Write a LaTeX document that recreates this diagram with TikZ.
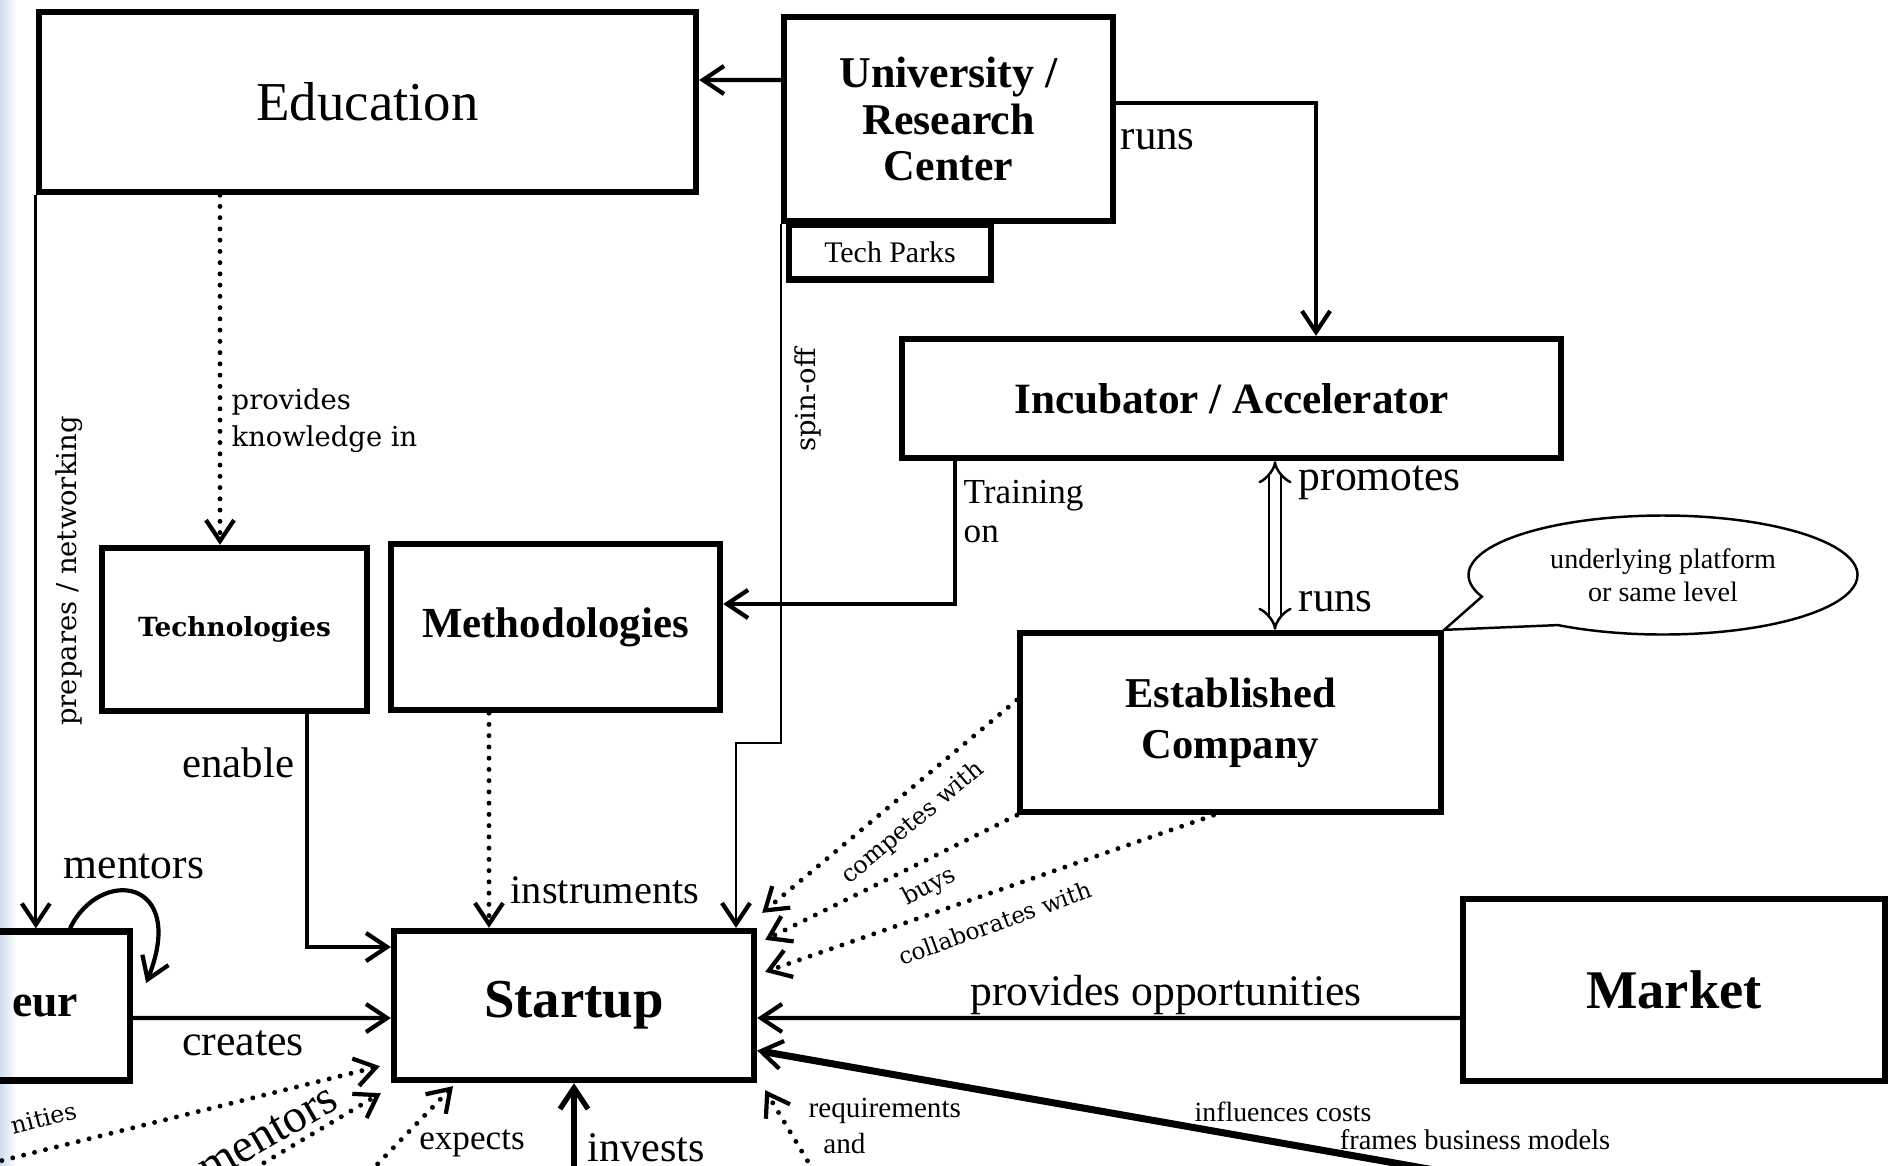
\documentclass[tikz,border=0pt]{standalone}
\usepackage{fontspec}
\setmainfont{Liberation Serif}
\newfontfamily\widefont{DejaVu Serif}
\usetikzlibrary{arrows.meta,shapes,calc,positioning}
\definecolor{stripblue}{RGB}{208,220,238}
\tikzset{box/.style={
            draw,
            fill=white,
            line width=1.8pt,
            inner sep=0pt,
            align=center
        },
        bubble/.style={
            ellipse callout,
            draw,
            fill=white,
            line width=0.7pt,
            inner sep=0pt,
            align=center,
            callout pointer arc=36,
            font=\fontsize{8}{9.5}\selectfont
        },
        lbl/.style={
            inner sep=0pt,
            font=\fontsize{12.2}{14}\selectfont
        },
        smalllbl/.style={
            inner sep=0pt,
            font=\fontsize{8.1}{10.3}\selectfont
        },
        widelbl/.style={
            inner sep=0pt,
            font=\widefont\fontsize{7.8}{10.4}\selectfont
        },
        link/.style={
            line width=1.2pt,
            >={Straight Barb[length=6pt,width=8pt]}
        },
        thinlink/.style={
            line width=0.6pt,
            >={Straight Barb[length=6pt,width=8pt,line width=1.2pt]}
        },
        heavy/.style={
            line width=2pt,
            >={Straight Barb[length=6pt,width=8pt,line width=1.2pt]}
        },
        dots/.style={
            line width=1.4pt,
            line cap=round,
            dash pattern=on 0pt off 3.2pt,
            >={Straight Barb[length=6pt,width=8pt,line width=1.2pt]}
        },
        dbl/.style={
            double,
            double distance=2.6pt,
            line width=0.7pt,
            {Implies}-{Implies}
        }
    }

\begin{document}
\begin{tikzpicture}[x=0.1mm,y=0.1mm]
        \useasboundingbox (0,0) rectangle (1896,-1165);
        \clip (0,0) rectangle (1896,-1165);
        \fill[left color=stripblue, right color=white] (0,0) rectangle (16,-1165);

        \node[box, minimum width=6.57cm, minimum height=1.8cm, font=\fontsize{15.6}{18}\selectfont] (edu) at (367.5,-102) {Education};
        \node[box, minimum width=3.29cm, minimum height=2.04cm, font=\bfseries\fontsize{12.5}{13.1}\selectfont] (uni) at (948.5,-119) {University /\\Research\\Center};
        \node[box, minimum width=2.02cm, minimum height=0.55cm, font=\fontsize{8.5}{10}\selectfont] (tp) at (890,-252) {Tech Parks};
        \node[box, minimum width=6.59cm, minimum height=1.19cm, font=\bfseries\fontsize{12.3}{14}\selectfont] (inc) at (1231.5,-398.5) {Incubator / Accelerator};
        \node[box, minimum width=2.65cm, minimum height=1.63cm, font=\widefont\bfseries\fontsize{7.5}{9}\selectfont] (tec) at (234.5,-629.5) {Technologies};
        \node[box, minimum width=3.29cm, minimum height=1.66cm, font=\bfseries\fontsize{12.2}{14}\selectfont] (met) at (555.5,-627) {Methodologies};
        \node[box, minimum width=4.21cm, minimum height=1.79cm, font=\bfseries\fontsize{12.1}{14.5}\selectfont] (est) at (1230.5,-722.5) {Established\\Company};
        \node[box, minimum width=4.22cm, minimum height=1.82cm, font=\bfseries\fontsize{15.5}{18}\selectfont] (mkt) at (1674,-990) {Market};
        \node[box, minimum width=3.6cm, minimum height=1.49cm, font=\bfseries\fontsize{15.6}{18}\selectfont] (st) at (574,-1005.5) {Startup};
        \node[box, fill=none, minimum width=1.7cm, minimum height=1.49cm, font=\bfseries\fontsize{13}{15}\selectfont] (ent) at (45,-1006) {eur};
        \node[bubble, minimum width=3.89cm, minimum height=1.19cm, callout absolute pointer={(est.north east)}] (plat) at (1663,-575) {underlying platform\\or same level};

        \draw[link,->] ([yshift=0.39cm]uni.west) -- ([yshift=0.22cm]edu.east);
        \draw[link,->] ([yshift=0.16cm]uni.east) -| ([xshift=0.845cm]inc.north);
        \node[lbl, anchor=west] (lruns) at (1120,-140) {runs};

        \draw[thinlink,->,line width=0.9pt] (edu.south west) -- (edu.south west |- ent.north);
        \node[widelbl, rotate=90] (lprep) at (69,-571) {prepares / networking};

        \draw[dots,->] ($(tec.north |- edu.south)+(-14.5,0)$) -- ($(tec.north)+(-14.5,0)$);
        \node[widelbl, anchor=north west, align=left] (lprov) at (231,-388) {provides\\knowledge in};

        \draw[thinlink,->] (uni.south west) -- ++(0,-519) -| ($(st.north)+(162,0)$);
        \node[widelbl, rotate=90] (lspin) at (808,-400) {spin-off};

        \draw[link,->] ($(inc.south west)+(56,0)$) |- ($(met.east)+(0,23)$);
        \node[lbl, anchor=north west, align=left, font=\fontsize{10}{11}\selectfont] (ltrain) at (963,-480) {Training\\on};

        \draw[dbl] ($(inc.south)+(43.5,0)$) -- ($(est.north)+(44.5,0)$);
        \node[lbl, anchor=west, font=\fontsize{12.4}{14}\selectfont] (lprom) at (1298,-483) {promotes};
        \node[lbl, anchor=west] (lruns2) at (1298,-602) {runs};

        \draw[link,->] ($(tec.south)+(72.5,0)$) |- ($(st.west)+(0,58.5)$);
        \node[lbl, anchor=east] (lenab) at (295,-763) {enable};

        \draw[dots,->] ($(met.south)+(-66.5,0)$) -- ($(st.north)+(-85,0)$);
        \node[lbl, anchor=west, font=\fontsize{11.5}{13}\selectfont] (linst) at (510,-890) {instruments};

        \draw[link,->] ($(ent.north)+(25,0)$) .. controls +(30,62) and +(42,105) .. ($(ent.east)+(13,23)$);
        \node[lbl, font=\fontsize{12.4}{14}\selectfont] (lment) at (134,-866) {mentors};

        \draw[link,->] ($(ent.east)+(0,-12)$) -- ($(st.west)+(0,-12.5)$);
        \node[lbl, font=\fontsize{12.5}{14}\selectfont] (lcrea) at (243,-1043) {creates};

        \draw[link,->] ($(mkt.west)+(0,-28)$) -- ($(st.east)+(0,-12.5)$);
        \node[lbl, font=\fontsize{12.4}{14}\selectfont] (lopp) at (1166,-995) {provides opportunities};

        \coordinate (cost) at (1491,-1180);
        \draw[heavy,->] (cost) -- ($(st.east)+(0,-45)$);
        \node[smalllbl, font=\fontsize{7.9}{9}\selectfont] (linfl) at (1283,-1112) {influences costs};
        \node[smalllbl] (lfram) at (1475,-1140) {frames business models};

        \draw[dots,->] ($(est.west)+(0,22.5)$) -- ($(st.north east)+(5,15)$);
        \draw[dots,->] (est.south west) -- ($(st.north east)+(8,-12)$);
        \draw[dots,->] ($(est.south)+(-17,0)$) -- ($(st.north east)+(8,-44)$);
        \node[widelbl, rotate=40, font=\widefont\fontsize{6.8}{8}\selectfont] (lcomp) at (913,-823) {competes with};
        \node[widelbl, rotate=28, font=\widefont\fontsize{6.8}{8}\selectfont] (lbuys) at (929,-887) {buys};
        \node[widelbl, rotate=20, font=\widefont\fontsize{6.6}{8}\selectfont] (lcoll) at (995,-923) {collaborates with};

        \coordinate (opp) at (-20,-1166);
        \draw[dots,->] (opp) -- ($(st.south west)+(-11,17)$);
        \node[widelbl, rotate=14, font=\widefont\fontsize{6.8}{8}\selectfont] (lnit) at (44,-1118) {nities};

        \coordinate (mnt) at (235,-1180);
        \draw[dots,->] (mnt) -- ($(st.south west)+(-10,-10)$);
        \node[lbl, rotate=30, font=\fontsize{13.5}{15}\selectfont] (lment2) at (268,-1134) {mentors};

        \coordinate (exp) at (362,-1180);
        \draw[dots,->] (exp) -- ($(st.south)+(-121,-3)$);
        \node[lbl, font=\fontsize{10}{12}\selectfont] (lexp) at (472,-1143) {expects};

        \coordinate (inv) at (574,-1180);
        \draw[link,->,line width=1.5pt] (inv) -- (st.south);
        \node[lbl, font=\fontsize{12}{14}\selectfont] (linv) at (646,-1148) {invests};

        \coordinate (req) at (819,-1180);
        \draw[dots,->] (req) -- ($(st.south east)+(8,-7)$);
        \node[smalllbl, anchor=north west, align=left, font=\fontsize{8.3}{10.3}\selectfont] (lreq) at (808,-1097) {requirements\\\hspace*{0.5em}and};
    \end{tikzpicture}
\end{document}
